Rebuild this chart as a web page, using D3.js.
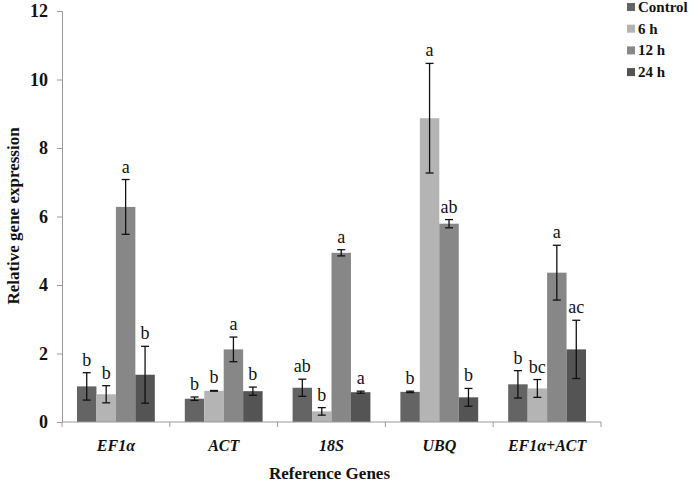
<!DOCTYPE html>
<html>
<head>
<meta charset="utf-8">
<script src="https://cdn.jsdelivr.net/npm/d3@7"></script>
<style>
  body { margin: 0; background: #fff; }
  svg text { font-family: "Liberation Serif", "Times New Roman", Times, serif !important; }
</style>
</head>
<body>
<svg width="692" height="482"></svg>
<script>
const genes = ["EF1α", "ACT", "18S", "UBQ", "EF1α+ACT"];
const series = ["Control", "6 h", "12 h", "24 h"];
const colors = ["#646464", "#b4b4b4", "#878787", "#545454"];

// rows = genes, columns = series
const means = [
  [1.04, 0.81, 6.28, 1.38],
  [0.68, 0.91, 2.12, 0.90],
  [1.00, 0.31, 4.94, 0.87],
  [0.88, 8.87, 5.79, 0.72],
  [1.10, 0.98, 4.36, 2.12]
];
const errs = [
  [0.40, 0.25, 0.80, 0.83],
  [0.05, 0.01, 0.36, 0.12],
  [0.25, 0.11, 0.09, 0.03],
  [0.02, 1.60, 0.12, 0.26],
  [0.40, 0.26, 0.80, 0.85]
];
const letters = [
  ["b", "b", "a", "b"],
  ["b", "b", "a", "b"],
  ["ab", "b", "a", "a"],
  ["b", "a", "ab", "b"],
  ["b", "bc", "a", "ac"]
];
const yTicks = [0, 2, 4, 6, 8, 10, 12];

const svg = d3.select("svg");
const mLeft = 62, mRight = 601, mTop = 11, mBottom = 422;

const x = d3.scaleBand().domain(genes).range([mLeft, mRight]);
const xs = d3.scaleBand().domain(series).range([15, x.bandwidth() - 15]);
const y = d3.scaleLinear().domain([0, 12]).range([mBottom, mTop]);

// y axis
const yAxis = svg.append("g")
  .attr("transform", `translate(${mLeft},0)`)
  .call(d3.axisLeft(y).tickValues(yTicks).tickSize(5).tickPadding(9))
  .attr("font-family", null);
yAxis.select(".domain").attr("stroke", "#9a9a9a");
yAxis.selectAll(".tick line").attr("stroke", "#9a9a9a");
yAxis.selectAll(".tick text")
  .attr("font-size", 18).attr("font-weight", "bold")
  .attr("fill", "#111");

// bars
const groups = svg.selectAll("g.gene")
  .data(genes)
  .join("g")
  .attr("class", "gene")
  .attr("transform", d => `translate(${x(d)},0)`);

groups.each(function(g, gi) {
  const grp = d3.select(this);
  const rows = series.map((s, si) => ({s, si, v: means[gi][si], e: errs[gi][si], l: letters[gi][si]}));
  const cx = d => xs(d.s) + xs.bandwidth() / 2;

  grp.selectAll("rect")
    .data(rows)
    .join("rect")
    .attr("x", d => xs(d.s))
    .attr("width", xs.bandwidth())
    .attr("y", d => y(d.v))
    .attr("height", d => y(0) - y(d.v))
    .attr("fill", d => colors[d.si]);

  const eb = grp.selectAll("g.err")
    .data(rows)
    .join("g")
    .attr("class", "err")
    .attr("stroke", "#111")
    .attr("stroke-width", 1.3);
  eb.append("line")
    .attr("x1", cx).attr("x2", cx)
    .attr("y1", d => y(d.v + d.e))
    .attr("y2", d => y(d.v - d.e));
  eb.append("line")
    .attr("x1", d => cx(d) - 4).attr("x2", d => cx(d) + 4)
    .attr("y1", d => y(d.v + d.e))
    .attr("y2", d => y(d.v + d.e));
  eb.append("line")
    .attr("x1", d => cx(d) - 4).attr("x2", d => cx(d) + 4)
    .attr("y1", d => y(d.v - d.e))
    .attr("y2", d => y(d.v - d.e));

  grp.selectAll("text.letter")
    .data(rows)
    .join("text")
    .attr("class", "letter")
    .attr("x", cx)
    .attr("y", d => y(d.v + d.e) - 7)
    .attr("text-anchor", "middle")
    .attr("font-size", 18)
    .attr("fill", "#111")
    .text(d => d.l);
});

// x axis
const xAxis = svg.append("g")
  .attr("transform", `translate(0,${mBottom})`);
xAxis.append("line")
  .attr("x1", mLeft).attr("x2", mRight)
  .attr("stroke", "#9a9a9a");
xAxis.selectAll("line.sep")
  .data(genes.map(d => x(d)).concat([mRight]))
  .join("line")
  .attr("class", "sep")
  .attr("x1", d => d).attr("x2", d => d)
  .attr("y1", 0).attr("y2", 5)
  .attr("stroke", "#9a9a9a");
xAxis.selectAll("text")
  .data(genes)
  .join("text")
  .attr("x", d => x(d) + x.bandwidth() / 2)
  .attr("y", 29)
  .attr("text-anchor", "middle")
  .attr("font-size", 16)
  .attr("font-weight", "bold")
  .attr("font-style", "italic")
  .attr("fill", "#111")
  .text(d => d);

// axis titles
svg.append("text")
  .attr("x", (mLeft + mRight) / 2 - 2)
  .attr("y", 479)
  .attr("text-anchor", "middle")
  .attr("font-size", 17)
  .attr("font-weight", "bold")
  .attr("fill", "#111")
  .text("Reference Genes");

svg.append("text")
  .attr("transform", "translate(19,216) rotate(-90)")
  .attr("text-anchor", "middle")
  .attr("font-size", 17)
  .attr("font-weight", "bold")
  .attr("fill", "#111")
  .text("Relative gene expression");

// legend
const legend = svg.append("g").attr("transform", "translate(627,0)");
const li = legend.selectAll("g")
  .data(series)
  .join("g")
  .attr("transform", (d, i) => `translate(0,${7 + i * 21.7})`);
li.append("rect")
  .attr("x", 0).attr("y", -4)
  .attr("width", 8).attr("height", 8)
  .attr("fill", (d, i) => colors[i]);
li.append("text")
  .attr("x", 11).attr("y", 5)
  .attr("font-size", 15)
  .attr("font-weight", "bold")
  .attr("fill", "#111")
  .text(d => d);
</script>
</body>
</html>
